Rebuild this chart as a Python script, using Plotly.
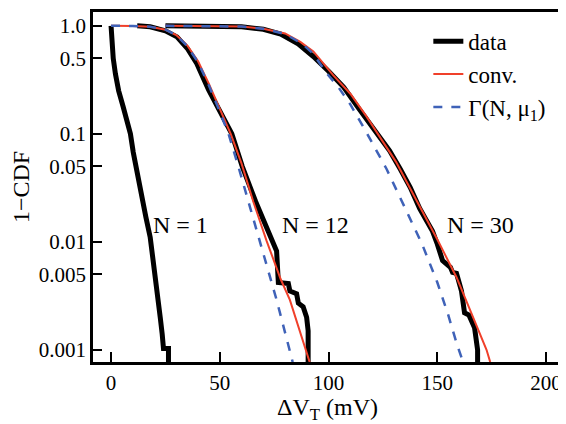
import math
import plotly.graph_objects as go

# N = 1 (only data drawn)
n1_data_x = [0, 0.4, 1.0, 2.0, 3.5, 5.5, 7.2, 8.9, 10.2, 12, 14, 16, 18, 19.5, 21.1, 22, 22.6, 23.5, 24.1, 26.4, 26.4]
n1_data_y = [1.0, 0.75, 0.5, 0.36, 0.25, 0.18, 0.13, 0.1, 0.0675, 0.042, 0.026, 0.017, 0.011, 0.0065, 0.0041,
             0.0028, 0.002, 0.0014, 0.00103, 0.00103, 0.0005]

# N = 12
n12_data_x = [12, 18, 25, 30.3, 35, 39.4, 44.8, 50, 55.5, 60.3, 63.5, 66.5, 70, 73.8, 76.1, 76.9, 81.5, 82.2,
              85.3, 86.1, 88.3, 89.9, 90.6, 90.6]
n12_data_y = [1.0, 0.98, 0.9, 0.79, 0.62, 0.449, 0.256, 0.16, 0.1, 0.05, 0.033, 0.0235, 0.016, 0.0101, 0.0082,
              0.0042, 0.0041, 0.0035, 0.0033, 0.0027, 0.0025, 0.002, 0.0015, 0.0005]
n12_conv_x = [0, 10, 18, 25, 30, 35, 40, 45, 50, 55, 60, 65.4, 71.5, 78, 82.2, 91.3]
n12_conv_y = [1.0, 0.998, 0.98, 0.92, 0.82, 0.66, 0.47, 0.29, 0.17, 0.1, 0.053, 0.0235, 0.0102, 0.0045, 0.0029, 0.00077]
n12_gamma_x = [0, 10, 18, 25, 30, 35, 40, 45, 50, 54, 58.5, 63.1, 68.5, 76.1, 83.5]
n12_gamma_y = [1.0, 0.998, 0.98, 0.92, 0.82, 0.65, 0.46, 0.28, 0.16, 0.1, 0.05, 0.0235, 0.0097, 0.0029, 0.00077]

# N = 30
n30_data_x = [25, 45, 60, 70, 78, 86, 93, 100, 107, 114, 122, 128, 133, 137.5, 141.9, 147.8, 150, 152.4, 156,
              157, 158.8, 161.1, 162.5, 164.5, 167.1, 168.5, 168.5]
n30_data_y = [1.0, 0.998, 0.98, 0.93, 0.84, 0.68, 0.52, 0.38, 0.27, 0.17, 0.1, 0.07, 0.047, 0.032, 0.0203,
              0.0125, 0.0095, 0.0067, 0.0058, 0.0052, 0.0051, 0.0035, 0.0022, 0.0021, 0.0016, 0.001, 0.0005]
n30_conv_x = [25, 50, 60, 70, 80, 87, 93, 102.1, 110, 117.4, 124, 131, 140, 150, 158.8, 166, 172.6, 174.3]
n30_conv_y = [1.0, 0.998, 0.985, 0.94, 0.85, 0.71, 0.58, 0.35, 0.235, 0.145, 0.09, 0.055, 0.025, 0.0105,
              0.0047, 0.0021, 0.001, 0.00077]
n30_gamma_x = [25, 50, 60, 70, 80, 88, 93, 99.1, 104.5, 109.8, 117.4, 126.6, 135, 143, 150, 155, 158.8, 161.8]
n30_gamma_y = [1.0, 0.998, 0.985, 0.94, 0.84, 0.68, 0.55, 0.364, 0.27, 0.19, 0.103, 0.0475, 0.021, 0.0095,
               0.0042, 0.0021, 0.00116, 0.00077]

labels = ["N = 1", "N = 12", "N = 30"]
label_x = [32, 94, 170]
label_y = [0.0142, 0.0142, 0.0142]

y_ticks = [0.001, 0.005, 0.01, 0.05, 0.1, 0.5, 1.0]
y_tick_labels = ["0.001", "0.005", "0.01", "0.05", "0.1", "0.5", "1.0"]
x_ticks = [0, 50, 100, 150, 200]

serif = "Liberation Serif, Times New Roman, serif"
black = "#000000"
red = "#f0402a"
blue = "#3f62b8"

fig = go.Figure()

for i, (xs, ys) in enumerate([(n1_data_x, n1_data_y), (n12_data_x, n12_data_y), (n30_data_x, n30_data_y)]):
    fig.add_trace(go.Scatter(x=xs, y=ys, mode="lines", name="data", legendgroup="data",
                             showlegend=(i == 0), line=dict(color=black, width=5)))

for i, (xs, ys) in enumerate([(n12_conv_x, n12_conv_y), (n30_conv_x, n30_conv_y)]):
    fig.add_trace(go.Scatter(x=xs, y=ys, mode="lines", name="conv.", legendgroup="conv",
                             showlegend=(i == 0), line=dict(color=red, width=2)))

for i, (xs, ys) in enumerate([(n12_gamma_x, n12_gamma_y), (n30_gamma_x, n30_gamma_y)]):
    fig.add_trace(go.Scatter(x=xs, y=ys, mode="lines", name="Γ(N, μ<sub>1</sub>)", legendgroup="gamma",
                             showlegend=(i == 0), line=dict(color=blue, width=2.5, dash="dash")))

# annotation y on a log axis is given in log10 units
for label, xv, yv in zip(labels, label_x, label_y):
    fig.add_annotation(x=xv, y=math.log10(yv), text=label, showarrow=False,
                       font=dict(family=serif, size=24, color=black))

# page body has an 8px margin, so the figure is sized to fit inside the window
fig.update_layout(
    width=558, height=416,
    margin=dict(l=85, r=3, t=1, b=62),
    plot_bgcolor="white", paper_bgcolor="white",
    font=dict(family=serif, size=21, color=black),
    legend=dict(x=0.715, y=0.978, xanchor="left", yanchor="top", bgcolor="rgba(0,0,0,0)",
                font=dict(family=serif, size=23), tracegroupgap=0),
)
fig.update_xaxes(
    range=[-8.3, 207.3], tickvals=x_ticks, ticks="inside", ticklen=10, tickwidth=2, tickcolor=black,
    showline=True, linewidth=2.5, linecolor=black, mirror=True, showgrid=False, zeroline=False,
    title=dict(text="ΔV<sub>T</sub> (mV)", font=dict(family=serif, size=24), standoff=7),
)
fig.update_yaxes(
    type="log", range=[-3.113, 0.128], tickvals=y_ticks, ticktext=y_tick_labels,
    ticks="inside", ticklen=9, tickwidth=2, tickcolor=black,
    showline=True, linewidth=2.5, linecolor=black, mirror=True, showgrid=False, zeroline=False,
    title=dict(text="1−CDF", font=dict(family=serif, size=24), standoff=4),
)

fig.write_html("out.html")
